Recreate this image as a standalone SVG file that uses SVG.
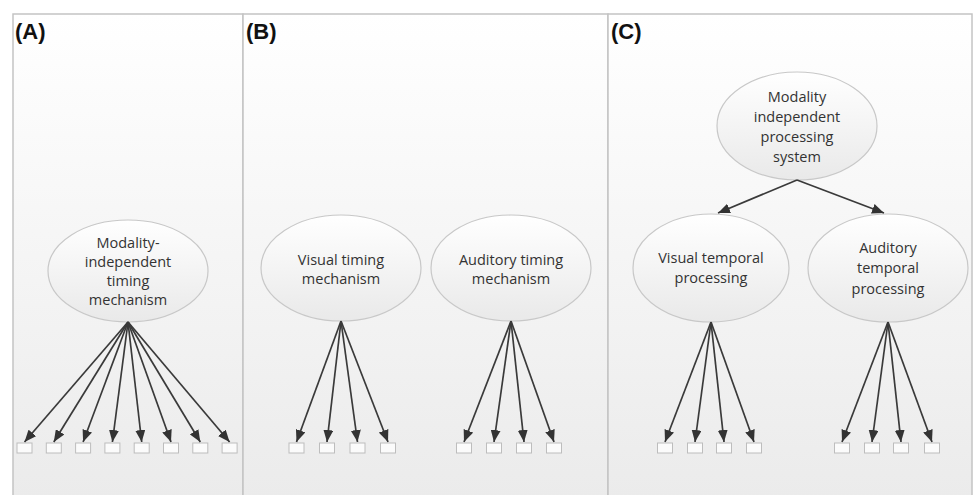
<svg xmlns="http://www.w3.org/2000/svg" width="975" height="495" viewBox="0 0 975 495">
<defs>
<linearGradient id="panelGrad" x1="0" y1="0" x2="0" y2="1">
<stop offset="0" stop-color="#ffffff"/>
<stop offset="1" stop-color="#ebebeb"/>
</linearGradient>
<linearGradient id="ellGrad" x1="0" y1="0" x2="0" y2="1">
<stop offset="0" stop-color="#ffffff"/>
<stop offset="1" stop-color="#e9e9e9"/>
</linearGradient>
<marker id="arr" markerUnits="userSpaceOnUse" markerWidth="12" markerHeight="10" refX="12" refY="5" orient="auto">
<path d="M0,0 L12,5 L0,10 z" fill="#333333"/>
</marker>
</defs>
<style>
.panel{fill:url(#panelGrad);stroke:#c4c4c4;stroke-width:1.5}
.ell{fill:url(#ellGrad);stroke:#c8c8c8;stroke-width:1.2}
.lbl{font-family:"Liberation Sans",Arial,sans-serif;font-weight:bold;font-size:22px;fill:#111111}
.t{font-family:"Open Sans","Liberation Sans",Arial,sans-serif;font-size:14.5px;fill:#333333;text-anchor:middle}
.box{fill:#fbfbfb;stroke:#bdbdbd;stroke-width:1}
.c{stroke:#3a3a3a;stroke-width:1.7;fill:none;marker-end:url(#arr)}
</style>
<rect width="975" height="495" fill="#ffffff"/>
<g id="panels">
<rect class="panel" x="13" y="14" width="230" height="484"/>
<rect class="panel" x="243" y="14" width="365" height="484"/>
<rect class="panel" x="608" y="14" width="364" height="484"/>
<text class="lbl" x="15" y="39">(A)</text>
<text class="lbl" x="246" y="39">(B)</text>
<text class="lbl" x="611" y="39">(C)</text>
</g>
<g id="nodeA">
<ellipse class="ell" cx="128" cy="271" rx="80" ry="51"/>
<text class="t" x="128" y="248">Modality-</text>
<text class="t" x="128" y="267">independent</text>
<text class="t" x="128" y="286">timing</text>
<text class="t" x="128" y="305">mechanism</text>
</g>
<g id="nodeBvis">
<ellipse class="ell" cx="341" cy="268" rx="80" ry="53"/>
<text class="t" x="341" y="265">Visual timing</text>
<text class="t" x="341" y="284">mechanism</text>
</g>
<g id="nodeBaud">
<ellipse class="ell" cx="511" cy="268" rx="80" ry="53"/>
<text class="t" x="511" y="265">Auditory timing</text>
<text class="t" x="511" y="284">mechanism</text>
</g>
<g id="nodeCtop">
<ellipse class="ell" cx="797" cy="126" rx="80" ry="54"/>
<text class="t" x="797" y="102">Modality</text>
<text class="t" x="797" y="122">independent</text>
<text class="t" x="797" y="142">processing</text>
<text class="t" x="797" y="162">system</text>
</g>
<g id="nodeCvis">
<ellipse class="ell" cx="711" cy="268" rx="78" ry="54"/>
<text class="t" x="711" y="263">Visual temporal</text>
<text class="t" x="711" y="283">processing</text>
</g>
<g id="nodeCaud">
<ellipse class="ell" cx="888" cy="268" rx="80" ry="54"/>
<text class="t" x="888" y="253">Auditory</text>
<text class="t" x="888" y="273">temporal</text>
<text class="t" x="888" y="294">processing</text>
</g>
<g id="boxes">
<rect class="box" x="17" y="443" width="15" height="10"/>
<rect class="box" x="46.3" y="443" width="15" height="10"/>
<rect class="box" x="75.6" y="443" width="15" height="10"/>
<rect class="box" x="104.9" y="443" width="15" height="10"/>
<rect class="box" x="134.2" y="443" width="15" height="10"/>
<rect class="box" x="163.5" y="443" width="15" height="10"/>
<rect class="box" x="192.8" y="443" width="15" height="10"/>
<rect class="box" x="222.1" y="443" width="15" height="10"/>
<rect class="box" x="289" y="443" width="15" height="10"/>
<rect class="box" x="319.5" y="443" width="15" height="10"/>
<rect class="box" x="350" y="443" width="15" height="10"/>
<rect class="box" x="380.5" y="443" width="15" height="10"/>
<rect class="box" x="456.5" y="443" width="15" height="10"/>
<rect class="box" x="486.5" y="443" width="15" height="10"/>
<rect class="box" x="516.5" y="443" width="15" height="10"/>
<rect class="box" x="546.5" y="443" width="15" height="10"/>
<rect class="box" x="657.5" y="443" width="15" height="10"/>
<rect class="box" x="687.5" y="443" width="15" height="10"/>
<rect class="box" x="716.5" y="443" width="15" height="10"/>
<rect class="box" x="746.5" y="443" width="15" height="10"/>
<rect class="box" x="834.5" y="443" width="15" height="10"/>
<rect class="box" x="864.5" y="443" width="15" height="10"/>
<rect class="box" x="893.5" y="443" width="15" height="10"/>
<rect class="box" x="924.5" y="443" width="15" height="10"/>
</g>
<g id="connectors">
<line class="c" x1="128" y1="322" x2="24.5" y2="442"/>
<line class="c" x1="128" y1="322" x2="53.8" y2="442"/>
<line class="c" x1="128" y1="322" x2="83.1" y2="442"/>
<line class="c" x1="128" y1="322" x2="112.4" y2="442"/>
<line class="c" x1="128" y1="322" x2="141.7" y2="442"/>
<line class="c" x1="128" y1="322" x2="171" y2="442"/>
<line class="c" x1="128" y1="322" x2="200.3" y2="442"/>
<line class="c" x1="128" y1="322" x2="229.6" y2="442"/>
<line class="c" x1="341" y1="321" x2="296.5" y2="442"/>
<line class="c" x1="341" y1="321" x2="327" y2="442"/>
<line class="c" x1="341" y1="321" x2="357.5" y2="442"/>
<line class="c" x1="341" y1="321" x2="388" y2="442"/>
<line class="c" x1="511" y1="321" x2="464" y2="442"/>
<line class="c" x1="511" y1="321" x2="494" y2="442"/>
<line class="c" x1="511" y1="321" x2="524" y2="442"/>
<line class="c" x1="511" y1="321" x2="554" y2="442"/>
<line class="c" x1="797" y1="180" x2="718" y2="213"/>
<line class="c" x1="797" y1="180" x2="884" y2="213"/>
<line class="c" x1="711" y1="322" x2="665" y2="442"/>
<line class="c" x1="711" y1="322" x2="695" y2="442"/>
<line class="c" x1="711" y1="322" x2="724" y2="442"/>
<line class="c" x1="711" y1="322" x2="754" y2="442"/>
<line class="c" x1="888" y1="322" x2="842" y2="442"/>
<line class="c" x1="888" y1="322" x2="872" y2="442"/>
<line class="c" x1="888" y1="322" x2="901" y2="442"/>
<line class="c" x1="888" y1="322" x2="932" y2="442"/>
</g>
</svg>
